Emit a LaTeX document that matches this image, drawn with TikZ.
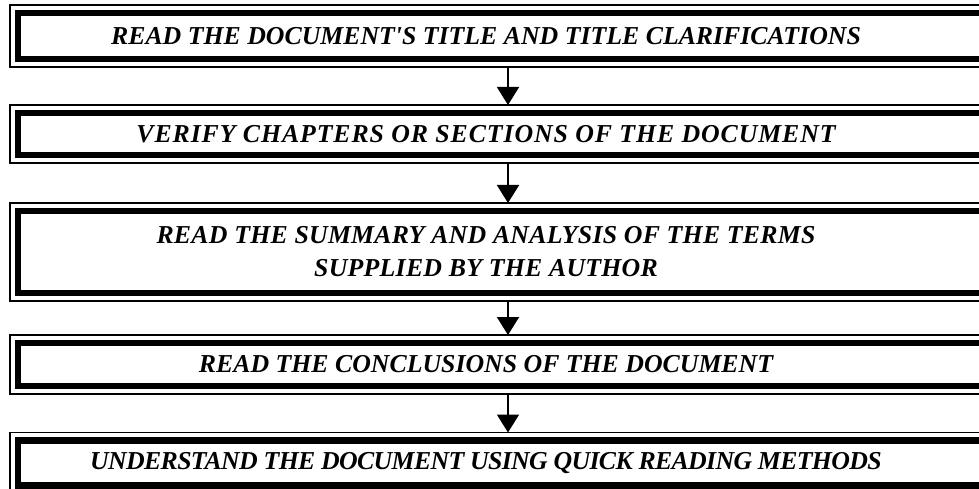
\documentclass[tikz,border=0pt]{standalone}
\usepackage{fontspec}
\setmainfont{Liberation Serif}[Ligatures=TeXOff]
\usetikzlibrary{arrows.meta}
\usetikzlibrary{positioning}

\tikzset{stepbox/.style={draw, line width=6.5pt, minimum width=980pt, outer sep=8pt, inner sep=0pt},
         steptext/.style={font=\fontsize{25.8}{33}\selectfont\bfseries\itshape\addfontfeature{LetterSpace=#1}, align=center},
         steptext/.default=0,
         steparrow/.style={line width=1.8pt, -{Triangle[width=22pt,length=18pt]}}}

\begin{document}
\begin{tikzpicture}[x=1pt, y=-1pt]
            \clip (0,0) rectangle (979,489);
            \draw (508,36) node[stepbox, minimum height=46pt]      (b1) {};
            \draw (508,134) node[stepbox, minimum height=42pt]     (b2) {};
            \draw (508,252) node[stepbox, minimum height=82pt]     (b3) {};
            \draw (508,364.5) node[stepbox, minimum height=43pt]   (b4) {};
            \draw (508,463) node[stepbox, minimum height=45pt]     (b5) {};
            \draw (486,36) node[steptext]   (t1) {READ THE DOCUMENT'S TITLE AND TITLE CLARIFICATIONS};
            \draw (486,134) node[steptext=3.5]  (t2) {VERIFY CHAPTERS OR SECTIONS OF THE DOCUMENT};
            \draw (486,252) node[steptext=1]  (t3) {READ THE SUMMARY AND ANALYSIS OF THE TERMS\\SUPPLIED BY THE AUTHOR};
            \draw (486,364.5) node[steptext] (t4) {READ THE CONCLUSIONS OF THE DOCUMENT};
            \draw (486,463) node[steptext=-2.5]  (t5) {UNDERSTAND THE DOCUMENT USING QUICK READING METHODS};
            % thin outer frames
            \foreach \b in {b1,b2,b3,b4,b5}
              \draw[line width=1.8pt] (\b.north west) rectangle (\b.south east);
            \foreach \a/\b in {b1/b2,b2/b3,b3/b4,b4/b5}
              \draw[steparrow] (\a) -- (\b);
\end{tikzpicture}
\end{document}
